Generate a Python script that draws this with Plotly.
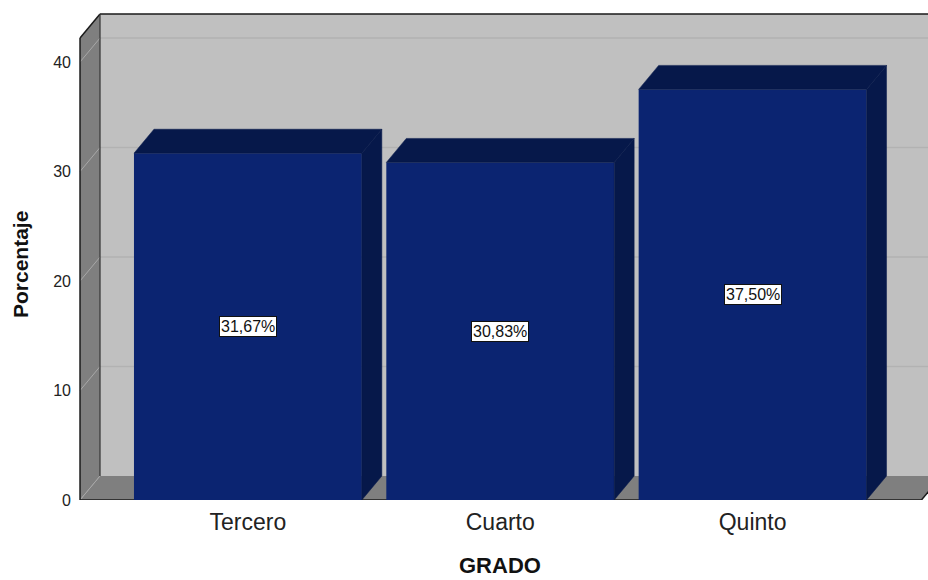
import plotly.graph_objects as go

# ---- data ----
categorias = ["Tercero", "Cuarto", "Quinto"]
valores = [31.67, 30.83, 37.50]
y_ticks = [0, 10, 20, 30, 40]
x_titulo = "GRADO"
y_titulo = "Porcentaje"

# ---- geometry (axis units) ----
PX_X = 252.5          # pixels per x unit
PX_Y = 10.95          # pixels per y unit
X_LEFT = -0.6733      # left edge of plot area
X_RIGHT = 2.6951      # right edge of plot area
Y_TOP = 44.75
WALL_X = -0.6653      # front edge of left wall
FLOOR_XR = 2.669      # front right end of floor
WALL_H = 42.19        # front height of walls
DX = 20 / PX_X        # depth offset
DY = 24 / PX_Y
BAR_W = 0.903

FRONT = "#0b2471"
DARK = "#06184a"
WALLC = "#7f7f7f"
BACKC = "#c0c0c0"
FONT = "Liberation Sans, Arial, sans-serif"

ML, MT, MB = 78, 10, 80
W, H = 928, 580
PW, PH = W - ML, H - MT - MB

fig = go.Figure()
shapes = []

def path(pts):
    return "M " + " L ".join(f"{x},{y}" for x, y in pts) + " Z"

# back plane
shapes.append(dict(type="path", xref="x", yref="y", layer="below",
                   path=path([(WALL_X + DX, DY), (X_RIGHT + 0.2, DY),
                              (X_RIGHT + 0.2, WALL_H + DY), (WALL_X + DX, WALL_H + DY)]),
                   fillcolor=BACKC, line=dict(width=0)))
# back gridlines
for t in y_ticks[1:]:
    shapes.append(dict(type="line", xref="x", yref="y", layer="below",
                       x0=WALL_X + DX, x1=X_RIGHT + 0.2, y0=t + DY, y1=t + DY,
                       line=dict(color="#b2b2b2", width=1.5)))
# left wall
shapes.append(dict(type="path", xref="x", yref="y", layer="below",
                   path=path([(WALL_X, 0), (WALL_X, WALL_H),
                              (WALL_X + DX, WALL_H + DY), (WALL_X + DX, DY)]),
                   fillcolor=WALLC, line=dict(width=0)))
# floor
shapes.append(dict(type="path", xref="x", yref="y", layer="below",
                   path=path([(WALL_X, 0), (FLOOR_XR, 0),
                              (FLOOR_XR + DX, DY), (WALL_X + DX, DY)]),
                   fillcolor=WALLC, line=dict(width=0)))
# wall diagonal grid lines
for t in y_ticks:
    shapes.append(dict(type="line", xref="x", yref="y", layer="below",
                       x0=WALL_X, x1=WALL_X + DX, y0=t, y1=t + DY,
                       line=dict(color="#a8a8a8", width=1)))
# outlines
edge = dict(color="#1a1a1a", width=1.5)
shapes.append(dict(type="line", xref="x", yref="y", layer="below",
                   x0=WALL_X, x1=WALL_X, y0=0, y1=WALL_H, line=edge))
shapes.append(dict(type="line", xref="x", yref="y", layer="below",
                   x0=WALL_X, x1=WALL_X + DX, y0=WALL_H, y1=WALL_H + DY, line=edge))
shapes.append(dict(type="line", xref="x", yref="y", layer="below",
                   x0=WALL_X + DX, x1=X_RIGHT + 0.2, y0=WALL_H + DY, y1=WALL_H + DY, line=edge))
shapes.append(dict(type="line", xref="x", yref="y", layer="below",
                   x0=WALL_X + DX, x1=WALL_X + DX, y0=DY, y1=WALL_H + DY,
                   line=dict(color="#333333", width=1.2)))
shapes.append(dict(type="line", xref="x", yref="y", layer="below",
                   x0=WALL_X, x1=FLOOR_XR, y0=0, y1=0, line=edge))
shapes.append(dict(type="line", xref="x", yref="y", layer="below",
                   x0=FLOOR_XR, x1=FLOOR_XR + DX, y0=0, y1=DY, line=edge))

# bar fronts
xs = list(range(len(categorias)))
fig.add_trace(go.Bar(x=xs, y=valores, width=BAR_W, marker=dict(color=FRONT, line=dict(width=0)),
                     hoverinfo="skip", showlegend=False))

# bar top and side faces
for i, v in zip(xs, valores):
    xl, xr = i - BAR_W / 2, i + BAR_W / 2
    top_x = [xl, xr, xr + DX, xl + DX, xl]
    top_y = [v, v, v + DY, v + DY, v]
    side_x = [xr, xr, xr + DX, xr + DX, xr]
    side_y = [0, v, v + DY, DY, 0]
    for px, py in ((top_x, top_y), (side_x, side_y)):
        fig.add_trace(go.Scatter(x=px, y=py, mode="lines", fill="toself",
                                 fillcolor=DARK, line=dict(color=DARK, width=0.5),
                                 hoverinfo="skip", showlegend=False))

# value labels
for i, v in zip(xs, valores):
    fig.add_annotation(x=i, y=v / 2, xref="x", yref="y",
                       text=f"{v:.2f}".replace(".", ",") + "%", showarrow=False,
                       font=dict(family=FONT, size=16, color="#111111"),
                       bgcolor="white", bordercolor="#111111", borderwidth=1, borderpad=1)

# y axis title (page pixel position 20, 265)
fig.add_annotation(x=(20 - ML) / PW, y=(MT + PH - 265) / PH,
                   xref="paper", yref="paper", xanchor="center", yanchor="middle",
                   text=y_titulo, showarrow=False, textangle=-90,
                   font=dict(family=FONT, size=21, color="#111111", weight="bold"))
# x axis title (centered at x=500, box bottom at the figure's lower edge)
fig.add_annotation(x=(500 - ML) / PW, y=(MT + PH - 579) / PH,
                   xref="paper", yref="paper", xanchor="center", yanchor="bottom",
                   text=x_titulo, showarrow=False, borderpad=0,
                   font=dict(family=FONT, size=22, color="#111111", weight="bold"))

fig.update_layout(
    width=W, height=H,
    margin=dict(l=ML, r=0, t=MT, b=MB, autoexpand=False),
    paper_bgcolor="white", plot_bgcolor="white",
    shapes=shapes,
    xaxis=dict(range=[X_LEFT, X_RIGHT], tickvals=xs, ticktext=categorias,
               showgrid=False, zeroline=False, showline=False, ticks="",
               ticklabelstandoff=6, automargin=False,
               tickfont=dict(family=FONT, size=23, color="#222222")),
    yaxis=dict(range=[0, Y_TOP], tickvals=y_ticks, showgrid=False, zeroline=False,
               showline=False, ticks="", ticklabelstandoff=6, automargin=False,
               tickfont=dict(family=FONT, size=16, color="#222222")),
)

fig.write_html("out.html", config={"displayModeBar": False},
               post_script="document.body.style.margin='0';document.body.style.overflow='hidden';")
